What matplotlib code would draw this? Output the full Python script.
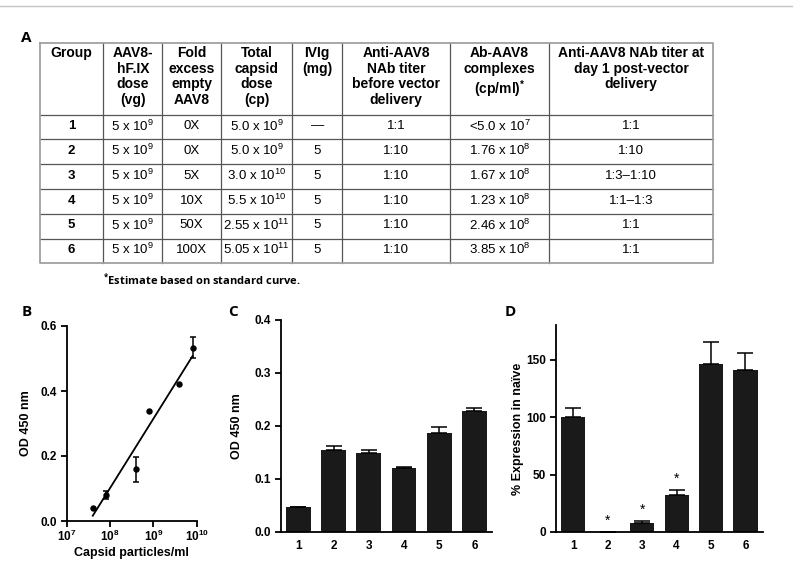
import numpy as np
import matplotlib
matplotlib.use("Agg")
import matplotlib.pyplot as plt
from matplotlib.ticker import LogLocator, NullFormatter

plt.rcParams['font.family'] = ['Liberation Sans', 'DejaVu Sans']
plt.rcParams['mathtext.default'] = 'regular'

# ---- panel A: table ----
headers = ["Group", "AAV8-\nhF.IX\ndose\n(vg)", "Fold\nexcess\nempty\nAAV8",
           "Total\ncapsid\ndose\n(cp)", "IVIg\n(mg)",
           "Anti-AAV8\nNAb titer\nbefore vector\ndelivery",
           "Ab-AAV8\ncomplexes\n(cp/ml)$^{*}$",
           "Anti-AAV8 NAb titer at\nday 1 post-vector\ndelivery"]
groups = ["1", "2", "3", "4", "5", "6"]
vector_dose = ["5 x 10$^{9}$"] * 6
fold_excess = ["0X", "0X", "5X", "10X", "50X", "100X"]
capsid_dose = ["5.0 x 10$^{9}$", "5.0 x 10$^{9}$", "3.0 x 10$^{10}$",
               "5.5 x 10$^{10}$", "2.55 x 10$^{11}$", "5.05 x 10$^{11}$"]
ivig = ["\u2014", "5", "5", "5", "5", "5"]
titer_before = ["1:1", "1:10", "1:10", "1:10", "1:10", "1:10"]
complexes = ["<5.0 x 10$^{7}$", "1.76 x 10$^{8}$", "1.67 x 10$^{8}$",
             "1.23 x 10$^{8}$", "2.46 x 10$^{8}$", "3.85 x 10$^{8}$"]
titer_day1 = ["1:1", "1:10", "1:3\u20131:10", "1:1\u20131:3", "1:1", "1:1"]
footnote = "Estimate based on standard curve."

# ---- panel B: standard curve ----
std_cp = np.array([4e7, 8e7, 4e8, 8e8, 4e9, 8e9])
std_od = np.array([0.041, 0.080, 0.159, 0.337, 0.421, 0.533])
std_err = np.array([0.0, 0.013, 0.038, 0.0, 0.0, 0.032])

# ---- panel C: OD of Ab-AAV8 complexes ----
bar_groups = [1, 2, 3, 4, 5, 6]
c_od = [0.047, 0.155, 0.149, 0.121, 0.186, 0.228]
c_err = [0.0, 0.006, 0.005, 0.002, 0.012, 0.005]

# ---- panel D: % expression ----
d_expr = [100.3, 0.0, 7.9, 32.0, 146.5, 140.7]
d_err = [7.5, 0.0, 2.0, 4.3, 18.5, 15.3]
d_signif = [False, True, True, True, False, False]

W, H = 800, 568
fig = plt.figure(figsize=(W / 100, H / 100), dpi=100)

# full-figure pixel axes for table and labels
pa = fig.add_axes([0, 0, 1, 1])
pa.set_xlim(0, W)
pa.set_ylim(H, 0)
pa.axis('off')

pa.plot([0, 792], [6, 6], color='#c4c4c4', lw=1)

col_x = [40, 103.3, 162.3, 220.7, 292.3, 342.3, 450, 549.3, 713.3]
row_y = [42.7, 115, 139.3, 164.3, 189.3, 213.7, 238.7, 262.7]

for x in col_x[1:-1]:
    pa.plot([x, x], [row_y[0], row_y[-1]], color='#555555', lw=0.9)
for y in row_y[1:-1]:
    pa.plot([col_x[0], col_x[-1]], [y, y], color='#555555', lw=0.9)
pa.plot([col_x[0], col_x[-1], col_x[-1], col_x[0], col_x[0]],
        [row_y[0], row_y[0], row_y[-1], row_y[-1], row_y[0]],
        color='#a0a0a0', lw=1.3)

for j, h in enumerate(headers):
    cx = (col_x[j] + col_x[j + 1]) / 2
    pa.text(cx, row_y[0] + 3, h, ha='center', va='top', fontsize=10,
            fontweight='bold', linespacing=1.17)

columns = [groups, vector_dose, fold_excess, capsid_dose, ivig,
           titer_before, complexes, titer_day1]
for j, col in enumerate(columns):
    cx = (col_x[j] + col_x[j + 1]) / 2
    for i, val in enumerate(col):
        cy = (row_y[i + 1] + row_y[i + 2]) / 2 - 1
        pa.text(cx, cy, val, ha='center', va='center', fontsize=9.5,
                fontweight='bold' if j == 0 else 'normal')

pa.text(103, 280, "$^{*}$" + footnote, ha='left', va='center', fontsize=8,
        fontweight='bold', family=['Open Sans', 'DejaVu Sans'])

for lab, x, y in [("A", 26.5, 37.5), ("B", 27, 312), ("C", 233, 312), ("D", 510, 312)]:
    pa.text(x, y, lab, ha='center', va='center', fontsize=11,
            fontweight='bold', family=['Open Sans', 'DejaVu Sans'])


def style(ax):
    for s in ['top', 'right']:
        ax.spines[s].set_visible(False)
    for s in ['left', 'bottom']:
        ax.spines[s].set_linewidth(1.3)
    ax.tick_params(width=1.3, length=4, labelsize=8.5, pad=3)
    for t in ax.get_xticklabels() + ax.get_yticklabels():
        t.set_fontweight('bold')


# B
axB = fig.add_axes([66.7 / W, 47 / H, 130 / W, 195 / H])
axB.set_xscale('log')
m = std_err > 0
axB.errorbar(std_cp[m], std_od[m], yerr=std_err[m], fmt='none', ecolor='black',
             elinewidth=1.1, capsize=2.5, capthick=1.1, clip_on=False)
axB.plot(std_cp, std_od, 'o', color='black', ms=3.6, clip_on=False)
slope, icpt = np.polyfit(np.log10(std_cp), std_od, 1)
xf = np.array([std_cp.min(), std_cp.max()])
axB.plot(xf, slope * np.log10(xf) + icpt, color='black', lw=1.3)
axB.set_xlim(1e7, 1e10)
axB.set_ylim(0, 0.6)
axB.set_yticks([0.0, 0.2, 0.4, 0.6], ["0.0", "0.2", "0.4", "0.6"])
axB.set_xticks([1e7, 1e8, 1e9, 1e10],
               ["$10^{7}$", "$10^{8}$", "$10^{9}$", "$10^{10}$"])
axB.xaxis.set_minor_locator(LogLocator(base=10, subs=np.arange(2, 10)))
axB.xaxis.set_minor_formatter(NullFormatter())
style(axB)
axB.tick_params(axis='x', pad=1.5)
axB.tick_params(which='minor', length=2.2, width=1)
axB.set_xlabel("Capsid particles/ml", fontsize=9, fontweight='bold', labelpad=2)
axB.set_ylabel("OD 450 nm", fontsize=9, fontweight='bold', labelpad=6)

# C
axC = fig.add_axes([280.7 / W, 36.3 / H, 211.3 / W, 211.7 / H])
axC.bar(bar_groups, c_od, width=0.7, color='#1a1a1a',
        yerr=[np.zeros(len(c_err)), c_err], capsize=5.5,
        error_kw=dict(elinewidth=1.1, capthick=1.1, ecolor='black'))
axC.set_xlim(0.5, 6.5)
axC.set_ylim(0, 0.4)
axC.set_yticks([0.0, 0.1, 0.2, 0.3, 0.4], ["0.0", "0.1", "0.2", "0.3", "0.4"])
axC.set_xticks(bar_groups, [str(g) for g in bar_groups])
style(axC)
axC.tick_params(axis='x', length=0, pad=6)
axC.set_ylabel("OD 450 nm", fontsize=9, fontweight='bold', labelpad=8)

# D
axD = fig.add_axes([556 / W, 36 / H, 206.7 / W, 207 / H])
axD.bar(bar_groups, d_expr, width=0.7, color='#1a1a1a',
        yerr=[np.zeros(len(d_err)), d_err], capsize=5.5,
        error_kw=dict(elinewidth=1.1, capthick=1.1, ecolor='black'))
for g, v, e, s in zip(bar_groups, d_expr, d_err, d_signif):
    if s:
        axD.annotate("*", (g, v + e), xytext=(0, 3), textcoords='offset points',
                     ha='center', va='bottom', fontsize=10)
axD.set_xlim(0.5, 6.5)
axD.set_ylim(0, 180)
axD.set_yticks([0, 50, 100, 150], ["0", "50", "100", "150"])
axD.set_xticks(bar_groups, [str(g) for g in bar_groups])
style(axD)
axD.tick_params(axis='x', length=0, pad=6)
axD.set_ylabel("% Expression in na\u00efve", fontsize=9, fontweight='bold', labelpad=2)

fig.savefig("out.png", dpi=100)
